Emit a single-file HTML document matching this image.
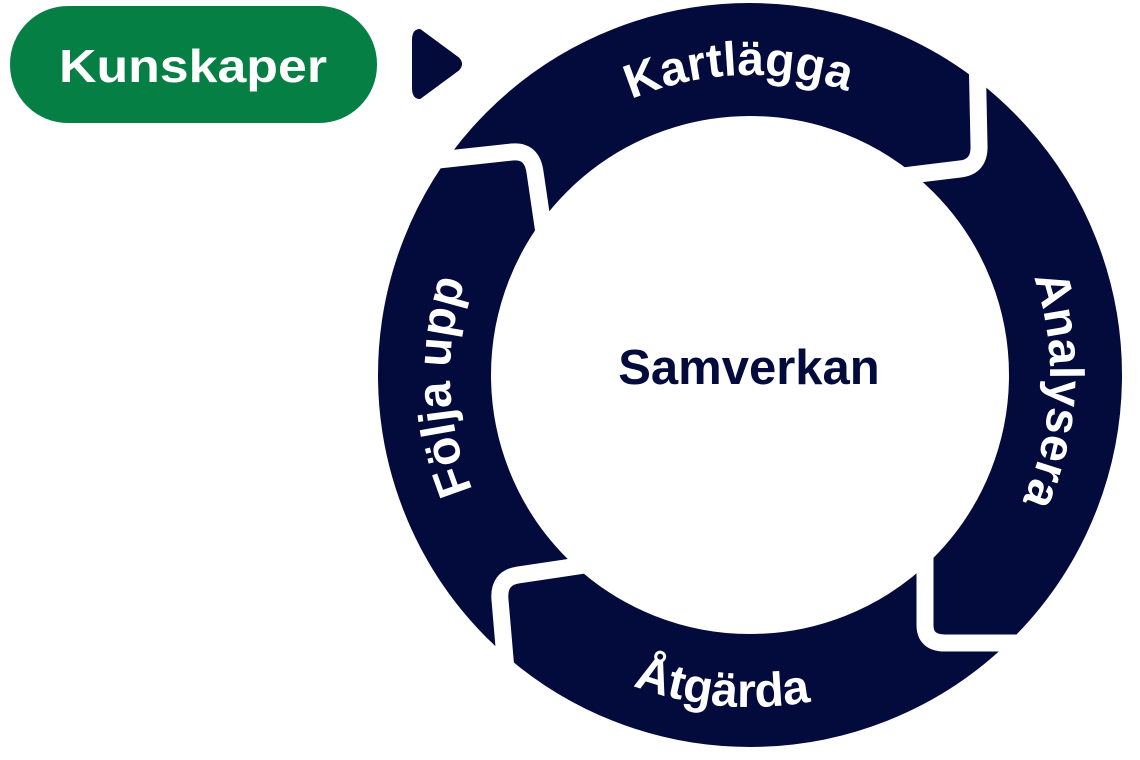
<!DOCTYPE html>
<html><head><meta charset="utf-8"><style>
html,body{margin:0;padding:0;background:#fff;}
svg{display:block;}
text{font-family:"Liberation Sans",sans-serif;}
</style></head><body>
<svg width="1140" height="760" viewBox="0 0 1140 760">
<rect x="10" y="6" width="367" height="117" rx="58" fill="#067f45"/>
<text x="193" y="82" text-anchor="middle" font-size="46" fill="#fff" font-weight="bold" textLength="268" lengthAdjust="spacingAndGlyphs">Kunskaper</text>
<path d="M420 30 Q413 30 413 40 L413 88 Q413 98 420 98 L458 70 Q464 64 458 58 Z" fill="#020b3b" stroke="#020b3b" stroke-width="2" stroke-linejoin="round"/>
<circle cx="750" cy="375" r="315.5" fill="none" stroke="#020b3b" stroke-width="113"/>
<g fill="none" stroke="#fff" stroke-width="17" stroke-linecap="butt" stroke-linejoin="round">
<path d="M420 162 L512 152 Q532 150 535 172 L545 240"/>
<path d="M977 50 L979 145 Q980 167 960 169 L870 180"/>
<path d="M925 550 L925 625 Q925 643 945 643 L1040 643"/>
<path d="M585 565 L518 575 Q498 578 500 600 L506 670"/>
</g>
<defs>
<path id="cwk" d="M750 675 A300 300 0 0 1 450 375 A300 300 0 0 1 750 75 A300 300 0 0 1 1050 375 A300 300 0 0 1 750 675"/>
<path id="ccw" d="M418 375 A332 332 0 0 0 1082 375"/>
</defs>
<g font-size="48" fill="#fff" font-weight="bold">
<text text-anchor="middle"><textPath href="#cwk" startOffset="49.4%">Kartlägga</textPath></text>
<text text-anchor="middle"><textPath href="#cwk" startOffset="75.8%">Analysera</textPath></text>
<text text-anchor="middle"><textPath href="#cwk" startOffset="24.4%">Följa upp</textPath></text>
<text text-anchor="middle"><textPath href="#ccw" startOffset="47.2%">Åtgärda</textPath></text>
</g>
<text x="749" y="384" text-anchor="middle" font-size="49" font-weight="bold" fill="#020b3b">Samverkan</text>
</svg>
</body></html>
